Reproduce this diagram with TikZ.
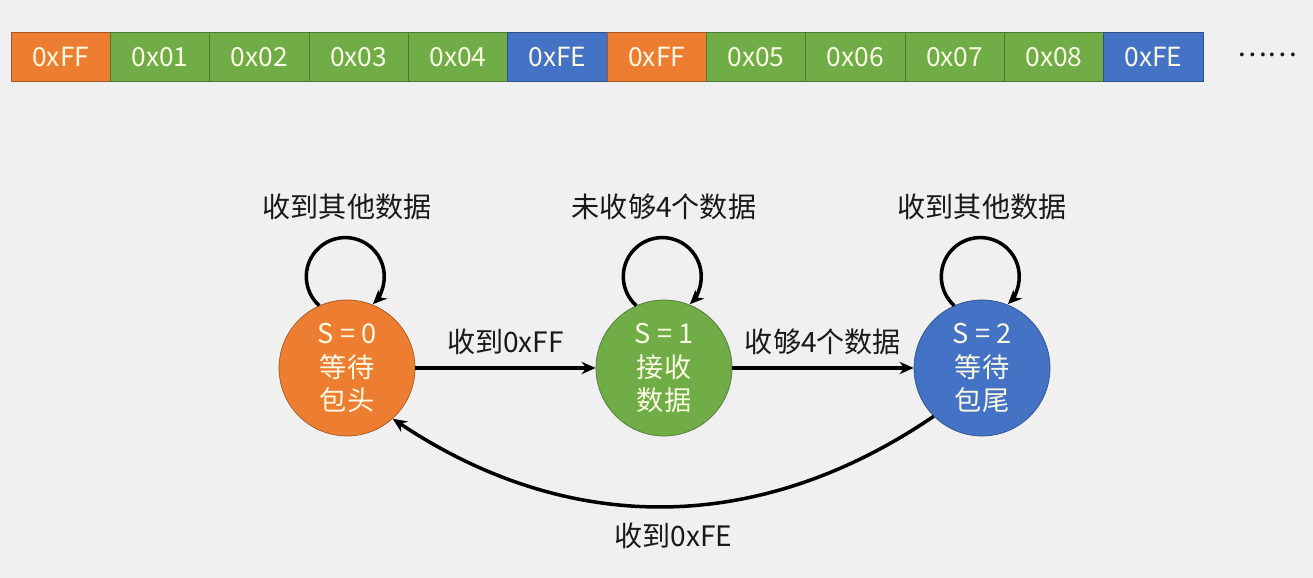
\documentclass[tikz,border=0pt]{standalone}
\usepackage{fontspec}
\setmainfont{Noto Sans CJK SC}
\usepackage{xcolor}
\usetikzlibrary{arrows.meta, positioning}
\definecolor{headorange}{RGB}{237,125,49}
\definecolor{datagreen}{RGB}{112,173,71}
\definecolor{tailblue}{RGB}{68,114,196}
\definecolor{bggray}{RGB}{240,240,240}
\definecolor{celltext}{RGB}{250,250,228}
\definecolor{inkgray}{RGB}{25,25,25}

\begin{document}
\begin{tikzpicture}[
  x=0.02cm, y=0.02cm,
  font=\fontsize{16}{19}\selectfont, text=inkgray,
  cell/.style={rectangle, draw=#1!70!black, fill=#1, text=celltext, minimum width=1.987cm, minimum height=0.98cm, inner sep=0pt, font=\fontsize{15}{16}\selectfont},
  stnode/.style={circle, draw=#1!70!black, fill=#1, text=celltext, minimum size=2.72cm, inner sep=0pt, align=center, font=\fontsize{15.5}{19}\selectfont},
  trans/.style={line width=2pt, draw=black, -{Stealth[length=8pt, width=7pt]}}
]
  \fill[bggray] (0,0) rectangle (1313,578);
  \useasboundingbox (0,0) rectangle (1313,578);

  % byte stream
  \foreach \i/\lab/\clr in {0/0xFF/headorange,1/0x01/datagreen,2/0x02/datagreen,3/0x03/datagreen,4/0x04/datagreen,5/0xFE/tailblue,6/0xFF/headorange,7/0x05/datagreen,8/0x06/datagreen,9/0x07/datagreen,10/0x08/datagreen,11/0xFE/tailblue} {
    \node[cell=\clr] (b\i) at ({60.7+\i*99.33},521) {\lab};
  }
  \node (more) at (1267,523) {……};

  % states
  \node[stnode=headorange] (s0) at (347,210) {S = 0\\等待\\包头};
  \node[stnode=datagreen] (s1) at (664,210) {S = 1\\接收\\数据};
  \node[stnode=tailblue] (s2) at (982,210) {S = 2\\等待\\包尾};

  % self loops
  \draw[trans] (s0.114) arc[start angle=228, end angle=-45, radius=39];
  \draw[trans] (s1.114) arc[start angle=228, end angle=-45, radius=39];
  \draw[trans] (s2.114) arc[start angle=228, end angle=-45, radius=39];
  \node[above=1.48cm of s0] (l0) {收到其他数据};
  \node[above=1.48cm of s1] (l1) {未收够4个数据};
  \node[above=1.48cm of s2] (l2) {收到其他数据};

  % transitions
  \draw[trans] (s0) -- node[above=3pt] {收到0xFF} (s1);
  \draw[trans] (s1) -- node[above=3pt] {收够4个数据} (s2);
  \draw[trans] (s2.225) to[bend left=34] node[below=0.18cm, xshift=0.2cm] {收到0xFE} (s0.-48);
\end{tikzpicture}
\end{document}
